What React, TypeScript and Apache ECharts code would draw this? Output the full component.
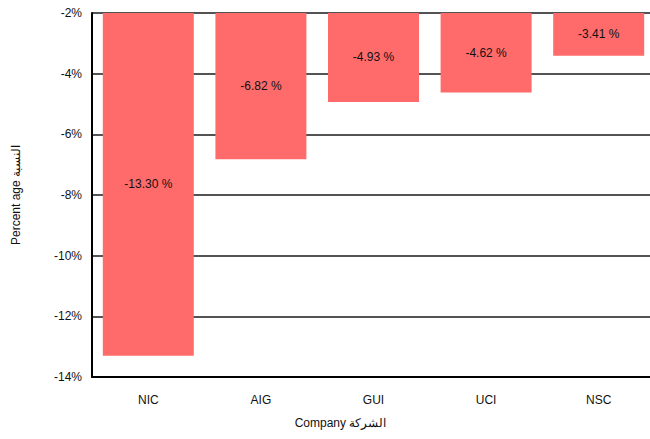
import React, { useEffect, useRef } from "react";
import * as echarts from "echarts";

const categories = ["NIC", "AIG", "GUI", "UCI", "NSC"];
const values = [-13.3, -6.82, -4.93, -4.62, -3.41];
const axisMin = -14;
const axisMax = -2;
const axisStep = 2;

const FONT = "'Liberation Sans Narrow', 'Arial Narrow', 'Liberation Sans', Arial, sans-serif";

export default function App() {
  const ref = useRef<HTMLDivElement>(null);
  useEffect(() => {
    if (!ref.current) return;
    const chart = echarts.init(ref.current, null, { renderer: "svg" });
    const base = values.map(() => axisMax);
    const rest = values.map((v) => +(v - axisMax).toFixed(2));
    chart.setOption({
      animation: false,
      backgroundColor: "#ffffff",
      textStyle: { fontFamily: FONT },
      grid: { left: 92, top: 13, bottom: 62, right: 5, containLabel: false },
      xAxis: {
        type: "category",
        data: categories,
        name: "Company الشركة",
        nameLocation: "middle",
        nameGap: 40,
        nameTextStyle: { color: "#111", fontSize: 12, fontFamily: FONT, padding: [0, 66, 0, 0] },
        axisLine: { lineStyle: { color: "#000", width: 2 } },
        axisTick: { show: false },
        axisLabel: { color: "#111", fontSize: 12, margin: 17, fontFamily: FONT },
        splitLine: { show: false },
      },
      yAxis: {
        type: "value",
        min: axisMin,
        max: axisMax,
        interval: axisStep,
        name: "Percent age النسبة",
        nameLocation: "middle",
        nameGap: 70,
        nameRotate: 90,
        nameTextStyle: { color: "#111", fontSize: 12, fontFamily: FONT },
        axisLine: { show: true, lineStyle: { color: "#000", width: 2 } },
        axisTick: { show: false },
        axisLabel: { color: "#111", fontSize: 12, margin: 10, fontFamily: FONT, formatter: (v: number) => `${v}%` },
        splitLine: { show: true, lineStyle: { color: "#1a1a1a", width: 1.6 } },
      },
      series: [
        {
          type: "bar",
          stack: "s",
          data: base,
          barWidth: 91,
          itemStyle: { color: "transparent" },
          silent: true,
        },
        {
          type: "bar",
          stack: "s",
          data: rest,
          barWidth: 91,
          itemStyle: { color: "#FF6B6B" },
          label: {
            show: true,
            position: "inside",
            color: "#111",
            fontSize: 12,
            fontFamily: FONT,
            formatter: (p: any) => `${values[p.dataIndex].toFixed(2)} %`,
          },
        },
      ],
    });
    return () => chart.dispose();
  }, []);
  return (
    <div style={{ width: 650, height: 439, position: "absolute", left: 0, top: 0, overflow: "hidden", background: "#fff" }}>
      <div ref={ref} style={{ width: 660, height: 439 }} />
    </div>
  );
}
